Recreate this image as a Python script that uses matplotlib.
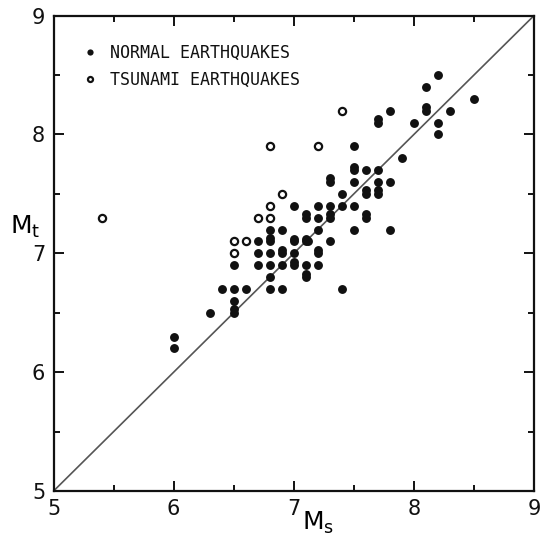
import matplotlib
matplotlib.use("Agg")
import matplotlib.pyplot as plt
from matplotlib.ticker import MultipleLocator

# normal earthquakes (Ms, Mt)
normal_ms = [6.0, 6.0, 6.3, 6.5, 6.5, 6.5, 6.4, 6.5, 6.6, 6.5,
             6.7, 6.7, 6.7, 6.8, 6.8, 6.8, 6.8, 6.8, 6.8, 6.8,
             6.9, 6.9, 6.9, 6.9, 6.9, 7.0, 7.0, 7.0, 7.0, 7.0,
             7.0, 7.1, 7.1, 7.1, 7.12, 7.1, 7.1, 7.1, 7.1, 7.2,
             7.2, 7.2, 7.2, 7.2, 7.2, 7.3, 7.3, 7.3, 7.3, 7.3,
             7.3, 7.4, 7.4, 7.4, 7.5, 7.5, 7.5, 7.5, 7.5, 7.5,
             7.6, 7.6, 7.6, 7.6, 7.6, 7.7, 7.7, 7.7, 7.7, 7.7,
             7.7, 7.8, 7.8, 7.8, 7.9, 8.0, 8.1, 8.1, 8.1, 8.2,
             8.2, 8.2, 8.3, 8.5]
normal_mt = [6.3, 6.2, 6.5, 6.5, 6.53, 6.6, 6.7, 6.7, 6.7, 6.9,
             7.1, 7.0, 6.9, 7.2, 7.1, 7.13, 7.0, 6.9, 6.8, 6.7,
             7.2, 7.0, 7.03, 6.9, 6.7, 7.4, 7.1, 7.12, 7.0, 6.9,
             6.93, 7.3, 7.33, 7.1, 7.1, 7.12, 6.9, 6.8, 6.83, 7.4,
             7.3, 7.2, 7.0, 7.03, 6.9, 7.6, 7.63, 7.4, 7.3, 7.33,
             7.1, 7.5, 7.4, 6.7, 7.9, 7.7, 7.73, 7.6, 7.4, 7.2,
             7.7, 7.5, 7.53, 7.3, 7.33, 8.1, 8.13, 7.7, 7.6, 7.5,
             7.53, 8.2, 7.6, 7.2, 7.8, 8.1, 8.4, 8.2, 8.23, 8.5,
             8.1, 8.0, 8.2, 8.3]

# tsunami earthquakes (Ms, Mt)
tsunami_ms = [5.4, 6.5, 6.5, 6.6, 6.7, 6.8, 6.8, 6.9, 6.8, 7.2, 7.4]
tsunami_mt = [7.3, 7.1, 7.0, 7.1, 7.3, 7.4, 7.3, 7.5, 7.9, 7.9, 8.2]

fig = plt.figure(figsize=(5.41, 5.39), dpi=100)
ax = fig.add_axes([0.099, 0.089, 0.888, 0.882])

# Mt = Ms line
ax.plot([5, 9], [5, 9], color="#555555", lw=1.2, zorder=1)

ax.plot(normal_ms, normal_mt, "o", color="#111111", ms=6.4, mew=0,
        label="NORMAL EARTHQUAKES", zorder=3)
ax.plot(tsunami_ms, tsunami_mt, "o", mfc="white", mec="#111111", ms=5.2,
        mew=1.6, label="TSUNAMI EARTHQUAKES", zorder=3)

ax.set_xlim(5, 9)
ax.set_ylim(5, 9)
ax.xaxis.set_major_locator(MultipleLocator(1))
ax.yaxis.set_major_locator(MultipleLocator(1))
ax.xaxis.set_minor_locator(MultipleLocator(0.5))
ax.yaxis.set_minor_locator(MultipleLocator(0.5))
ax.tick_params(which="both", direction="in", top=True, right=True,
               width=1.4, colors="#111111")
ax.tick_params(which="major", length=7, labelsize=15, pad=6)
ax.tick_params(which="minor", length=4)
for s in ax.spines.values():
    s.set_linewidth(1.6)
    s.set_color("#111111")

ax.set_xlabel(r"$\mathregular{M_s}$", fontsize=18, va="center")
ax.xaxis.set_label_coords(0.55, -0.068)
ax.set_ylabel(r"$\mathregular{M_t}$", fontsize=18, rotation=0, va="center")
ax.yaxis.set_label_coords(-0.06, 0.555)

leg = ax.legend(loc="upper left", bbox_to_anchor=(0.059, 0.94), frameon=False,
                handlelength=1.0, handletextpad=0.7, markerscale=0.7,
                borderpad=0, borderaxespad=0, labelspacing=0.55,
                prop={"family": "DejaVu Sans Mono", "size": 12})
for t in leg.get_texts():
    t.set_color("#111111")

fig.savefig("out.png", dpi=100)
